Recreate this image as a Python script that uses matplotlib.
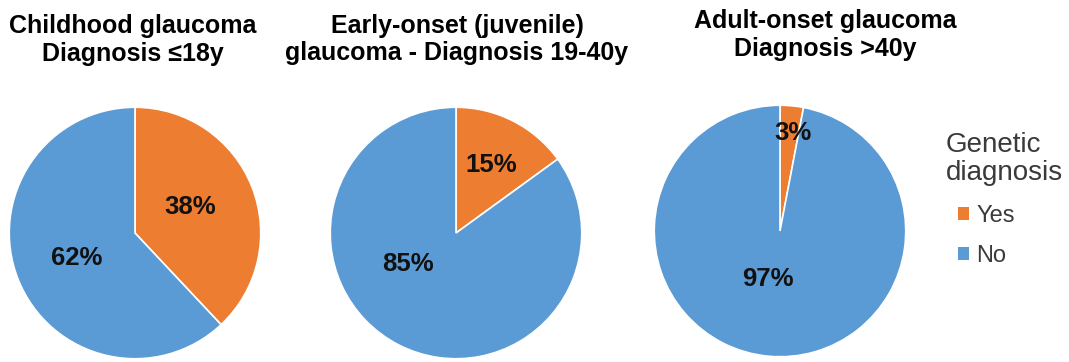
import matplotlib
matplotlib.use("Agg")
import matplotlib.pyplot as plt
from matplotlib.patches import Patch

# Share of patients with a genetic diagnosis, by age at diagnosis
titles = [
    "Childhood glaucoma\nDiagnosis \u226418y",
    "Early-onset (juvenile)\nglaucoma - Diagnosis 19-40y",
    "Adult-onset glaucoma\nDiagnosis >40y",
]
categories = ["Yes", "No"]
legend_title = "Genetic\ndiagnosis"
yes_pct = [38, 15, 3]
no_pct = [62, 85, 97]

colors = ["#ED7D31", "#5B9BD5"]
W, H = 1069, 362
fig = plt.figure(figsize=(W / 100, H / 100), dpi=100)

font = ["Liberation Sans", "DejaVu Sans"]

# pie centres (px from left/top), radius
centres = [(135, 233), (456, 233), (780, 231)]
radius = 127
# title centre x and baseline y of each line (px)
title_x = [133, 457, 825]
title_base = [(33, 61), (33, 60), (28, 56)]
# label anchor points in data units (radius = 1)
label_xy = [
    [(0.44, 0.21), (-0.46, -0.20)],
    [(0.28, 0.54), (-0.38, -0.25)],
    [(0.10, 0.78), (-0.10, -0.38)],
]

for i in range(3):
    cx, cy = centres[i]
    ax = fig.add_axes([(cx - radius) / W, 1 - (cy + radius) / H,
                       2 * radius / W, 2 * radius / H])
    vals = [yes_pct[i], no_pct[i]]
    ax.pie(vals, colors=colors, startangle=90, counterclock=False,
           radius=1, wedgeprops=dict(edgecolor="white", linewidth=1.2))
    ax.set_xlim(-1.01, 1.01)
    ax.set_ylim(-1.01, 1.01)
    ax.set_aspect("equal")
    ax.axis("off")
    for v, (lx, ly) in zip(vals, label_xy[i]):
        ax.text(lx, ly, f"{v}%", ha="center", va="center",
                fontsize=18.5, fontweight="bold", family=font,
                color="#111111")
    for line, by in zip(titles[i].split("\n"), title_base[i]):
        fig.text(title_x[i] / W, 1 - by / H, line, ha="center",
                 va="baseline", fontsize=18, fontweight="bold",
                 family=font, color="black")

# legend: title lines drawn separately so the entries can sit indented
for line, by in zip(legend_title.split("\n"), (152, 180)):
    fig.text(946 / W, 1 - by / H, line, ha="left", va="baseline",
             fontsize=20, family=font, color="#3a3a3a")

handles = [Patch(facecolor=c, edgecolor="none") for c in colors]
leg = fig.legend(handles, categories,
                 loc="upper left", bbox_to_anchor=(958 / W, 1 - 205 / H),
                 frameon=False, borderpad=0, borderaxespad=0,
                 handlelength=0.48, handleheight=0.48, handletextpad=0.3,
                 labelspacing=0.77,
                 prop={"family": font, "size": 17})
for t in leg.get_texts():
    t.set_color("#3a3a3a")

fig.savefig("out.png", dpi=100)
